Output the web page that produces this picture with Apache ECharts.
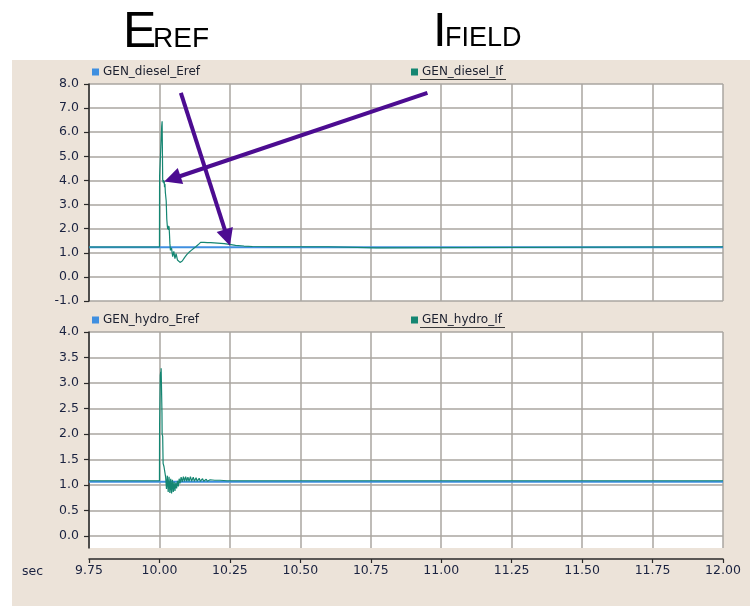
<!DOCTYPE html>
<html>
<head>
<meta charset="utf-8">
<script src="https://cdn.jsdelivr.net/npm/echarts@6/dist/echarts.min.js"></script>
<style>
  html, body { margin: 0; padding: 0; background: #ffffff; }
  #chart { width: 750px; height: 606px; }
</style>
</head>
<body>
<div id="chart"></div>
<script>
// Time axis (seconds)
const timeMin = 9.75;
const timeMax = 12.0;
const timeStep = 0.25;

// Diesel unit: excitation reference and field current
const dieselErefTime  = [9.75, 12.0];
const dieselErefValue = [1.23, 1.23];

const dieselIfTime = [
  9.75, 10.0, 10.0005, 10.004, 10.006, 10.0075, 10.008, 10.0095, 10.0105, 10.0115,
  10.013, 10.0145, 10.016, 10.017, 10.018, 10.0195, 10.021, 10.0225, 10.024, 10.026,
  10.028, 10.0295, 10.031, 10.0325, 10.034, 10.0355, 10.037, 10.039, 10.041, 10.043,
  10.045, 10.047, 10.049, 10.051, 10.053, 10.055, 10.057, 10.059, 10.061, 10.064,
  10.067, 10.070, 10.073, 10.077, 10.081, 10.085, 10.089, 10.093, 10.097, 10.101,
  10.105, 10.109, 10.113, 10.117, 10.121, 10.125, 10.129, 10.133, 10.137, 10.141,
  10.146, 10.150, 10.158, 10.162, 10.170, 10.174, 10.182, 10.186, 10.194, 10.198,
  10.206, 10.210, 10.218, 10.222, 10.230, 10.234, 10.242, 10.246, 10.254, 10.260,
  10.270, 10.275, 10.300, 10.330, 10.400, 10.600, 10.601, 10.770, 10.771, 12.0
];
const dieselIfValue = [
  1.24, 1.24, 4.15, 4.22, 4.08, 4.20, 6.25, 6.45, 6.38, 4.05,
  3.92, 4.02, 3.88, 3.98, 3.72, 3.85, 3.50, 3.58, 3.15, 2.40,
  2.10, 1.98, 2.12, 1.95, 2.10, 1.80, 1.40, 1.10, 1.04, 1.20,
  1.00, 0.84, 0.96, 1.06, 0.90, 0.76, 0.80, 0.96, 0.86, 0.70,
  0.62, 0.64, 0.60, 0.63, 0.66, 0.72, 0.80, 0.86, 0.92, 0.98,
  1.02, 1.08, 1.10, 1.15, 1.18, 1.22, 1.25, 1.28, 1.33, 1.38,
  1.43, 1.37, 1.43, 1.37, 1.42, 1.37, 1.42, 1.36, 1.41, 1.36,
  1.40, 1.35, 1.39, 1.34, 1.38, 1.33, 1.36, 1.32, 1.34, 1.29,
  1.31, 1.28, 1.28, 1.26, 1.25, 1.25, 1.20, 1.20, 1.25, 1.25
];

// Hydro unit: excitation reference and field current
const hydroErefTime  = [9.75, 12.0];
const hydroErefValue = [1.06, 1.06];

const hydroIfTime = [
  9.75, 9.893, 9.894, 9.895, 9.940, 9.941, 9.942, 9.958, 9.959, 9.960,
  10.0, 10.0005, 10.0025, 10.003, 10.0045, 10.0055, 10.006, 10.0085, 10.009, 10.0095,
  10.0115, 10.013, 10.016, 10.019, 10.022, 10.025, 10.028, 10.031, 10.034, 10.037,
  10.040, 10.043, 10.046, 10.049, 10.052, 10.055, 10.058, 10.061, 10.064, 10.067,
  10.070, 10.073, 10.077, 10.081, 10.085, 10.089, 10.093, 10.097, 10.101, 10.105,
  10.110, 10.114, 10.120, 10.124, 10.130, 10.134, 10.141, 10.145, 10.153, 10.157,
  10.166, 10.170, 10.180, 10.185, 10.196, 10.200, 10.215, 10.220, 10.240, 12.0
];
const hydroIfValue = [
  1.08, 1.08, 1.10, 1.08, 1.08, 1.10, 1.08, 1.08, 1.10, 1.08,
  1.08, 2.15, 2.15, 3.15, 3.22, 3.12, 3.29, 3.29, 2.40, 2.00,
  1.95, 1.42, 1.36, 1.33, 1.15, 0.92, 1.18, 0.86, 1.16, 0.84,
  1.12, 0.83, 1.10, 0.86, 1.06, 0.88, 1.04, 0.93, 1.08, 0.97,
  1.12, 1.03, 1.15, 1.06, 1.16, 1.07, 1.16, 1.07, 1.15, 1.07,
  1.16, 1.07, 1.15, 1.07, 1.14, 1.07, 1.13, 1.07, 1.12, 1.07,
  1.11, 1.07, 1.10, 1.07, 1.09, 1.07, 1.09, 1.07, 1.08, 1.08
];

// Value axis ticks
const dieselTicks = [-1, 0, 1, 2, 3, 4, 5, 6, 7, 8];
const hydroTicks  = [0, 0.5, 1, 1.5, 2, 2.5, 3, 3.5, 4];

// Annotation arrows on the diesel panel: [startTime, startValue, endTime, endValue]
const erefArrow = [10.076, 7.63, 10.241, 1.63];
const ifieldArrow = [10.951, 7.63, 10.046, 4.07];

const COLOR_EREF = '#3f8fe0';
const COLOR_IF = '#158672';
const GRID_LINE = '#aaa6a1';
const AXIS_DARK = '#2a2a2a';
const LABEL_DARK = '#1a2240';
const ARROW = '#4c0c91';
const PANEL = '#ece3d9';
const FONT = '"DejaVu Sans", sans-serif';

const pairs = (ts, vs) => ts.map((t, i) => [t, vs[i]]);

const chart = echarts.init(document.getElementById('chart'), null, { renderer: 'canvas' });

const legendBase = {
  icon: 'rect',
  itemWidth: 7,
  itemHeight: 7,
  selectedMode: false,
  padding: 0,
  textStyle: { fontFamily: FONT, fontSize: 12, color: '#1b1f2e', padding: [0, 0, 0, -1] }
};

const yAxisBase = {
  type: 'value',
  axisLine: { show: true, lineStyle: { color: AXIS_DARK, width: 1.5 } },
  axisTick: { show: true, length: 5, lineStyle: { color: AXIS_DARK, width: 1.2 } },
  axisLabel: {
    margin: 10, fontFamily: FONT, fontSize: 12.5, color: LABEL_DARK,
    formatter: v => v.toFixed(1)
  },
  splitLine: { show: true, lineStyle: { color: GRID_LINE, width: 1.5 } }
};

const xAxisBase = {
  type: 'value',
  min: timeMin,
  max: timeMax,
  interval: timeStep,
  splitLine: { show: true, lineStyle: { color: GRID_LINE, width: 1.5 } }
};

const option = {
  animation: false,
  backgroundColor: '#ffffff',
  graphic: [
    { type: 'rect', z: -10, silent: true, shape: { x: 12, y: 60, width: 738, height: 546 }, style: { fill: PANEL } },
    { type: 'text', silent: true, style: { text: 'E', x: 123, y: 33, verticalAlign: 'middle', font: '50px "Liberation Sans", Arial, sans-serif', fill: '#000' } },
    { type: 'text', silent: true, style: { text: 'REF', x: 153, y: 39.5, verticalAlign: 'middle', font: '28px "Liberation Sans", Arial, sans-serif', fill: '#000' } },
    { type: 'text', silent: true, style: { text: 'I', x: 433, y: 32, verticalAlign: 'middle', font: '49px "Liberation Sans", Arial, sans-serif', fill: '#000' } },
    { type: 'text', silent: true, style: { text: 'FIELD', x: 445, y: 39, verticalAlign: 'middle', font: '27px "Liberation Sans", Arial, sans-serif', fill: '#000' } },
    { type: 'line', silent: true, shape: { x1: 420, y1: 79.5, x2: 506, y2: 79.5 }, style: { stroke: '#3a3a3a', lineWidth: 1 } },
    { type: 'line', silent: true, shape: { x1: 420, y1: 327.5, x2: 505, y2: 327.5 }, style: { stroke: '#3a3a3a', lineWidth: 1 } }
  ],
  legend: [
    Object.assign({}, legendBase, { data: ['GEN_diesel_Eref'], left: 92, top: 66 }),
    Object.assign({}, legendBase, { data: ['GEN_diesel_If'], left: 411, top: 66 }),
    Object.assign({}, legendBase, { data: ['GEN_hydro_Eref'], left: 92, top: 314 }),
    Object.assign({}, legendBase, { data: ['GEN_hydro_If'], left: 411, top: 314 })
  ],
  grid: [
    { left: 89, top: 84, width: 634, height: 217, show: true, backgroundColor: '#ffffff', borderWidth: 0 },
    { left: 89, top: 332, width: 634, height: 216, show: true, backgroundColor: '#ffffff', borderWidth: 0 }
  ],
  xAxis: [
    Object.assign({}, xAxisBase, {
      gridIndex: 0,
      axisLine: { show: false, onZero: false },
      axisTick: { show: false },
      axisLabel: { show: false }
    }),
    Object.assign({}, xAxisBase, {
      gridIndex: 1,
      offset: 11,
      name: 'sec',
      nameLocation: 'start',
      nameGap: 46,
      nameTextStyle: { fontFamily: FONT, fontSize: 12.5, color: LABEL_DARK, align: 'right', verticalAlign: 'top', padding: [6, 0, 0, 0] },
      axisLine: { show: true, onZero: false, lineStyle: { color: AXIS_DARK, width: 1.5 } },
      axisTick: { show: true, inside: false, length: 4, lineStyle: { color: AXIS_DARK, width: 1.2 } },
      axisLabel: {
        margin: 5, fontFamily: FONT, fontSize: 12.5, color: LABEL_DARK,
        formatter: v => v.toFixed(2)
      }
    })
  ],
  yAxis: [
    Object.assign({}, yAxisBase, { gridIndex: 0, min: dieselTicks[0], max: dieselTicks[dieselTicks.length - 1], interval: 1 }),
    Object.assign({}, yAxisBase, {
      gridIndex: 1, min: -0.24, max: hydroTicks[hydroTicks.length - 1],
      axisTick: Object.assign({}, yAxisBase.axisTick, { customValues: hydroTicks }),
      axisLabel: Object.assign({}, yAxisBase.axisLabel, { customValues: hydroTicks })
    })
  ],
  series: [
    {
      name: 'GEN_diesel_Eref', type: 'line', xAxisIndex: 0, yAxisIndex: 0,
      data: pairs(dieselErefTime, dieselErefValue),
      showSymbol: false, symbol: 'none',
      itemStyle: { color: COLOR_EREF },
      lineStyle: { color: COLOR_EREF, width: 2 }
    },
    {
      name: 'GEN_diesel_If', type: 'line', xAxisIndex: 0, yAxisIndex: 0,
      data: pairs(dieselIfTime, dieselIfValue),
      showSymbol: false, symbol: 'none', sampling: null,
      itemStyle: { color: COLOR_IF },
      lineStyle: { color: COLOR_IF, width: 1.2 },
      markLine: {
        silent: true,
        symbol: ['none', 'triangle'],
        symbolSize: 17,
        label: { show: false },
        itemStyle: { color: ARROW },
        lineStyle: { color: ARROW, width: 4, type: 'solid' },
        emphasis: { disabled: true },
        data: [
          [{ coord: [erefArrow[0], erefArrow[1]] }, { coord: [erefArrow[2], erefArrow[3]] }],
          [{ coord: [ifieldArrow[0], ifieldArrow[1]] }, { coord: [ifieldArrow[2], ifieldArrow[3]] }]
        ]
      }
    },
    {
      name: 'GEN_hydro_Eref', type: 'line', xAxisIndex: 1, yAxisIndex: 1,
      data: pairs(hydroErefTime, hydroErefValue),
      showSymbol: false, symbol: 'none',
      itemStyle: { color: COLOR_EREF },
      lineStyle: { color: COLOR_EREF, width: 2 }
    },
    {
      name: 'GEN_hydro_If', type: 'line', xAxisIndex: 1, yAxisIndex: 1,
      data: pairs(hydroIfTime, hydroIfValue),
      showSymbol: false, symbol: 'none',
      itemStyle: { color: COLOR_IF },
      lineStyle: { color: COLOR_IF, width: 1.2 }
    }
  ]
};

chart.setOption(option);
</script>
</body>
</html>
